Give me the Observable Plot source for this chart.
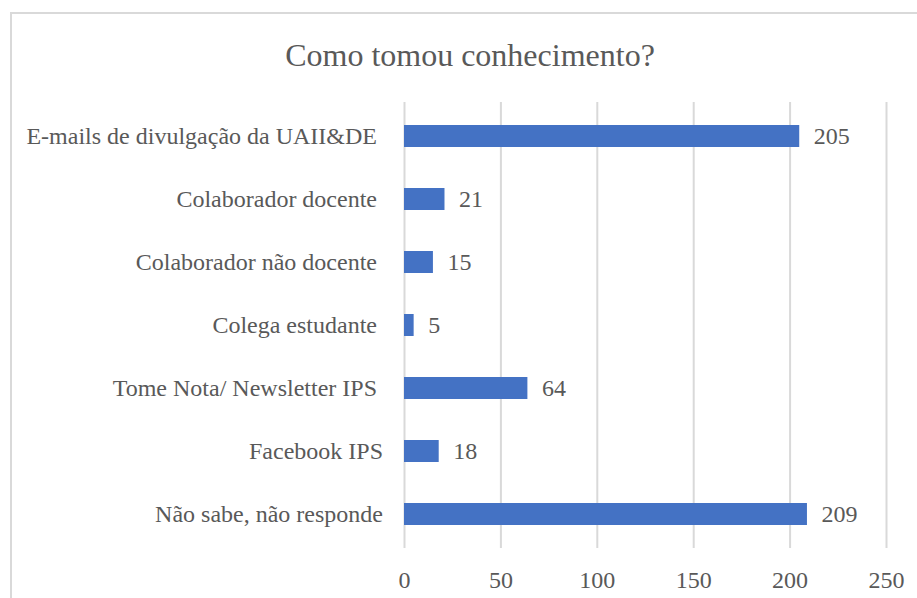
<!DOCTYPE html>
<html>
<head>
<meta charset="utf-8">
<script src="https://cdn.jsdelivr.net/npm/d3@7"></script>
<script src="https://cdn.jsdelivr.net/npm/@observablehq/plot@0.6"></script>
<style>
  html, body { margin: 0; padding: 0; background: #fff; }
  #wrap { position: relative; width: 917px; height: 598px; overflow: hidden; }
  #border { position: absolute; left: 10px; top: 12px; width: 920px; height: 600px;
            border-left: 2px solid #d9d9d9; border-top: 2px solid #d9d9d9; box-sizing: border-box; pointer-events: none; }
  #title { position: absolute; left: 0; width: 940px; top: 39px; text-align: center;
           font-family: "Liberation Serif", "Times New Roman", serif; font-size: 32px; line-height: 32px; color: #595959; }
  #chart { position: absolute; left: 0; top: 0; }
</style>
</head>
<body>
<div id="wrap">
  <div id="border"></div>
  <div id="title">Como tomou conhecimento?</div>
  <div id="chart"></div>
</div>
<script>
const categories = [
  "E-mails de divulgação da UAII&DE\u00a0",
  "Colaborador docente\u00a0",
  "Colaborador não docente\u00a0",
  "Colega estudante\u00a0",
  "Tome Nota/ Newsletter IPS\u00a0",
  "Facebook IPS",
  "Não sabe, não responde"
];
const counts = [205, 21, 15, 5, 64, 18, 209];
const xTicks = [0, 50, 100, 150, 200, 250];

const data = categories.map((c, i) => ({category: c, count: counts[i]}));

const chart = Plot.plot({
  width: 917,
  height: 598,
  marginLeft: 404,
  marginRight: 31,
  marginTop: 102,
  marginBottom: 50,
  style: {fontFamily: "'Liberation Serif', 'Times New Roman', serif", fontSize: "24px", color: "#595959", background: "transparent", overflow: "visible"},
  x: {domain: [0, 250], ticks: xTicks, tickSize: 0, tickPadding: 22, label: null},
  y: {domain: categories, paddingInner: 0.656, paddingOuter: 0.321, tickSize: 0, tickPadding: 21.5, label: null},
  marks: [
    Plot.gridX(xTicks, {stroke: "#d9d9d9", strokeOpacity: 1, strokeWidth: 2}),
    Plot.barX(data, {x: "count", y: "category", fill: "#4472C4"}),
    Plot.text(data, {x: "count", y: "category", text: d => String(d.count), textAnchor: "start", dx: 14, fill: "#595959", fontSize: 24}),
    Plot.axisX({ticks: xTicks, tickSize: 0, tickPadding: 22, fontSize: 24, fill: "#595959"}),
    Plot.axisY({tickSize: 0, tickPadding: 21.5, fontSize: 24, fill: "#595959"})
  ]
});
document.getElementById("chart").appendChild(chart);
</script>
</body>
</html>
